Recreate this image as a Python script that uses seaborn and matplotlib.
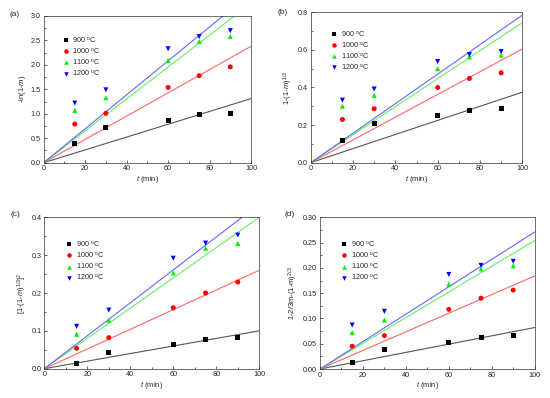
import numpy as np
import pandas as pd
import matplotlib
matplotlib.use("Agg")
import matplotlib.pyplot as plt
import seaborn as sns
from matplotlib.ticker import MultipleLocator

sns.set_theme(style="ticks")
plt.rcParams['font.family'] = ['Liberation Sans', 'DejaVu Sans']
plt.rcParams['mathtext.fontset'] = 'custom'
plt.rcParams['mathtext.rm'] = 'Liberation Sans'
plt.rcParams['mathtext.it'] = 'Liberation Sans:italic'

times = [15, 30, 60, 75, 90]
temps = ["900", "1000", "1100", "1200"]

a_900 = [0.39, 0.71, 0.87, 0.98, 1.01]
a_1000 = [0.79, 1.01, 1.54, 1.78, 1.96]
a_1100 = [1.07, 1.33, 2.09, 2.48, 2.58]
a_1200 = [1.22, 1.49, 2.33, 2.58, 2.70]
a_slopes = [0.0131, 0.0238, 0.0326, 0.0347]

b_900 = [0.12, 0.21, 0.253, 0.278, 0.286]
b_1000 = [0.23, 0.287, 0.40, 0.448, 0.478]
b_1100 = [0.30, 0.358, 0.50, 0.563, 0.572]
b_1200 = [0.333, 0.392, 0.538, 0.575, 0.591]
b_slopes = [0.00375, 0.00605, 0.00745, 0.00785]

c_900 = [0.015, 0.044, 0.064, 0.078, 0.082]
c_1000 = [0.054, 0.082, 0.161, 0.200, 0.229]
c_1100 = [0.091, 0.128, 0.253, 0.318, 0.331]
c_1200 = [0.112, 0.155, 0.292, 0.332, 0.353]
c_slopes = [0.0010, 0.0026, 0.0040, 0.00435]

d_900 = [0.013, 0.038, 0.053, 0.063, 0.066]
d_1000 = [0.045, 0.066, 0.118, 0.140, 0.156]
d_1100 = [0.072, 0.097, 0.168, 0.198, 0.204]
d_1200 = [0.087, 0.114, 0.187, 0.205, 0.213]
d_slopes = [0.00082, 0.00184, 0.00254, 0.00271]

W, H = 550, 398
# (label, data, slopes, ylabel, ymax, major, minor, fmt, axes px [l, t, r, b], label px (x, y), legend anchor (x, y))
panels = [
    ("(a)", [a_900, a_1000, a_1100, a_1200], a_slopes, r"-ln(1-$m$)", 3.0, 0.5, 0.25, "%.1f",
     (43.7, 16, 251, 162.7), (15, 15), (0.075, 0.895)),
    ("(b)", [b_900, b_1000, b_1100, b_1200], b_slopes, r"1-(1-$m$)$^{1/3}$", 0.8, 0.2, 0.1, "%.1f",
     (310.7, 12.3, 522.3, 162.7), (283, 12), (0.08, 0.915)),
    ("(c)", [c_900, c_1000, c_1100, c_1200], c_slopes, r"[1-(1-$m$)$^{1/3}$]$^{2}$", 0.4, 0.1, 0.05, "%.1f",
     (44.3, 217.3, 259.3, 368.7), (15, 215), (0.085, 0.88)),
    ("(d)", [d_900, d_1000, d_1100, d_1200], d_slopes, r"1-2/3m-(1-m)$^{2/3}$", 0.30, 0.05, 0.025, "%.2f",
     (320, 217.3, 534.7, 369), (290, 215), (0.082, 0.88)),
]

marker_colors = ["#000000", "#ff0000", "#00ee00", "#0000ff"]
line_colors = ["#555555", "#ff6666", "#66ee66", "#6666ff"]
markers = ["s", "o", "^", "v"]

fig = plt.figure(figsize=(W / 100, H / 100), dpi=100)
for label, series, slopes, ylabel, ymax, ymaj, ymin, fmt, px, lpos, lanc in panels:
    l, t, r, b = px
    ax = fig.add_axes([l / W, 1 - b / H, (r - l) / W, (b - t) / H])
    rows = []
    for tname, vals in zip(temps, series):
        for tv, v in zip(times, vals):
            rows.append({"t": tv, "y": v, "T": tname + r" $^{\rm o}$C"})
    df = pd.DataFrame(rows)
    hue_order = [tn + r" $^{\rm o}$C" for tn in temps]
    tt = np.array([0, 100])
    for k, c in zip(slopes, line_colors):
        sns.lineplot(x=tt, y=k * tt, ax=ax, color=c, lw=0.8, legend=False)
    sns.scatterplot(data=df, x="t", y="y", hue="T", style="T", hue_order=hue_order,
                    style_order=hue_order, palette=marker_colors, markers=markers,
                    s=13, linewidth=0, ax=ax, zorder=5)
    ax.set_xlim(0, 100)
    ax.set_ylim(0, ymax)
    ax.xaxis.set_major_locator(MultipleLocator(20))
    ax.xaxis.set_minor_locator(MultipleLocator(10))
    ax.yaxis.set_major_locator(MultipleLocator(ymaj))
    ax.yaxis.set_minor_locator(MultipleLocator(ymin))
    ax.yaxis.set_major_formatter(matplotlib.ticker.FormatStrFormatter(fmt))
    ax.tick_params(which="both", direction="in", labelsize=5.2, length=2.5, width=0.5, pad=2)
    ax.tick_params(which="minor", length=1.5)
    for sp in ax.spines.values():
        sp.set_linewidth(0.5)
        sp.set_color("#333333")
    ax.set_xlabel(r"$t$ (min)", fontsize=5.5, labelpad=1)
    ax.set_ylabel(ylabel, fontsize=5.5, labelpad=2)
    ax.legend(loc="upper left", bbox_to_anchor=lanc, fontsize=5.2, frameon=False,
              handletextpad=0.5, handlelength=0.8, labelspacing=0.15, borderpad=0,
              markerscale=0.9, title=None)
    fig.text(lpos[0] / W, 1 - lpos[1] / H, label, fontsize=6, va="center", ha="center")

fig.savefig("out.png", dpi=100)
